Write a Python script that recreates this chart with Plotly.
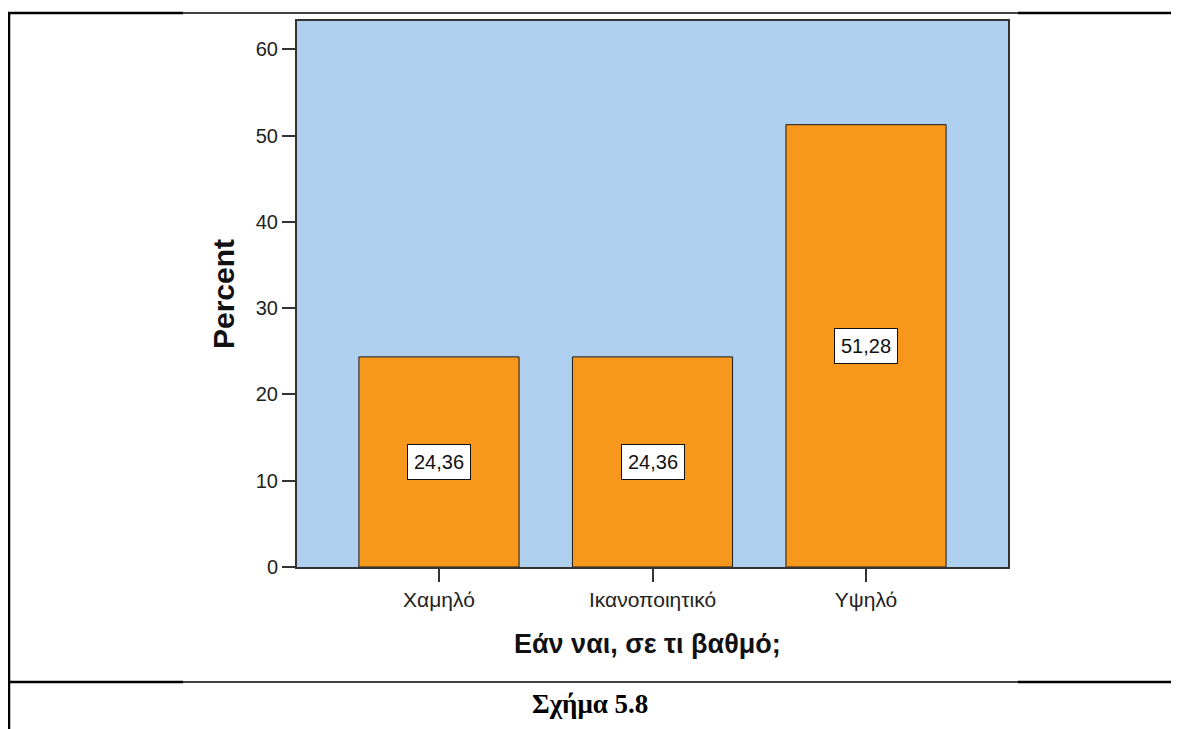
import plotly.graph_objects as go

categories = ["Χαμηλό", "Ικανοποιητικό", "Υψηλό"]
percent = [24.36, 24.36, 51.28]
y_ticks = [0, 10, 20, 30, 40, 50, 60]

# the page adds an 8px body margin, so work in page pixels and shift
OFF = 8
W, H = 1179 - OFF, 729 - OFF
# plot area in page pixels (left, right, top, bottom)
L, R, T, B = 297, 1008, 21, 567


def px_x(x):
    return (x - L) / (R - L)


def px_y(y):
    return (B - y) / (B - T)


fig = go.Figure()
fig.add_trace(go.Bar(
    x=categories, y=percent,
    marker=dict(color="#F7981D", line=dict(color="#1a1a1a", width=1)),
    width=0.75, hoverinfo="x+y",
))

# boxed value labels in the middle of each bar
annotations = []
for c, v in zip(categories, percent):
    annotations.append(dict(
        x=c, y=v / 2, xref="x", yref="y", showarrow=False,
        text=f"{v:.2f}".replace(".", ","),
        font=dict(family="Liberation Sans, Arial, sans-serif", size=20, color="#111"),
        bgcolor="white", bordercolor="#111", borderwidth=1, borderpad=6,
    ))

# axis titles and caption
annotations.append(dict(
    x=px_x(223), y=px_y(294), xref="paper", yref="paper", showarrow=False,
    text="<b>Percent</b>", textangle=-90, xanchor="center", yanchor="middle",
    font=dict(family="Liberation Sans, Arial, sans-serif", size=30, color="#111"),
))
annotations.append(dict(
    x=px_x(647), y=px_y(644), xref="paper", yref="paper", showarrow=False,
    text="<b>Εάν ναι, σε τι βαθμό;</b>", xanchor="center", yanchor="middle",
    font=dict(family="Liberation Sans, Arial, sans-serif", size=27, color="#111"),
))
annotations.append(dict(
    x=px_x(590), y=px_y(704), xref="paper", yref="paper", showarrow=False,
    text="<b>Σχήμα 5.8</b>", xanchor="center", yanchor="middle",
    font=dict(family="Liberation Serif, Times New Roman, serif", size=27, color="black"),
))

# table borders around the figure
shapes = []
for yy in (13, 682):
    for x0, x1, w in ((8, 183, 2.5), (183, 1018, 1.5), (1018, 1179, 2.5)):
        shapes.append(dict(type="line", xref="paper", yref="paper",
                           x0=px_x(x0), x1=px_x(x1), y0=px_y(yy), y1=px_y(yy),
                           line=dict(color="black", width=w)))
shapes.append(dict(type="line", xref="paper", yref="paper",
                   x0=px_x(9), x1=px_x(9), y0=px_y(12), y1=px_y(729),
                   line=dict(color="black", width=2.5)))

fig.update_layout(
    width=W, height=H,
    margin=dict(l=L - OFF, r=W - (R - OFF), t=T - OFF, b=H - (B - OFF), pad=0),
    paper_bgcolor="white", plot_bgcolor="#AED0EE",
    showlegend=False,
    font=dict(family="Liberation Sans, Arial, sans-serif", size=20, color="#222"),
    annotations=annotations, shapes=shapes,
)
fig.update_xaxes(
    type="category", range=[-0.665, 2.665],
    showline=True, linecolor="#333", linewidth=2, mirror=True,
    ticks="outside", ticklen=13, tickwidth=2, tickcolor="#333",
    showgrid=False, zeroline=False, tickfont=dict(size=21, color="#222"),
)
fig.update_yaxes(
    range=[0, 63.3], tickvals=y_ticks,
    showline=True, linecolor="#333", linewidth=2, mirror=True,
    ticks="outside", ticklen=13, tickwidth=2, tickcolor="#333",
    showgrid=False, zeroline=False, tickfont=dict(size=20, color="#222"),
)

fig.write_html("out.html")
